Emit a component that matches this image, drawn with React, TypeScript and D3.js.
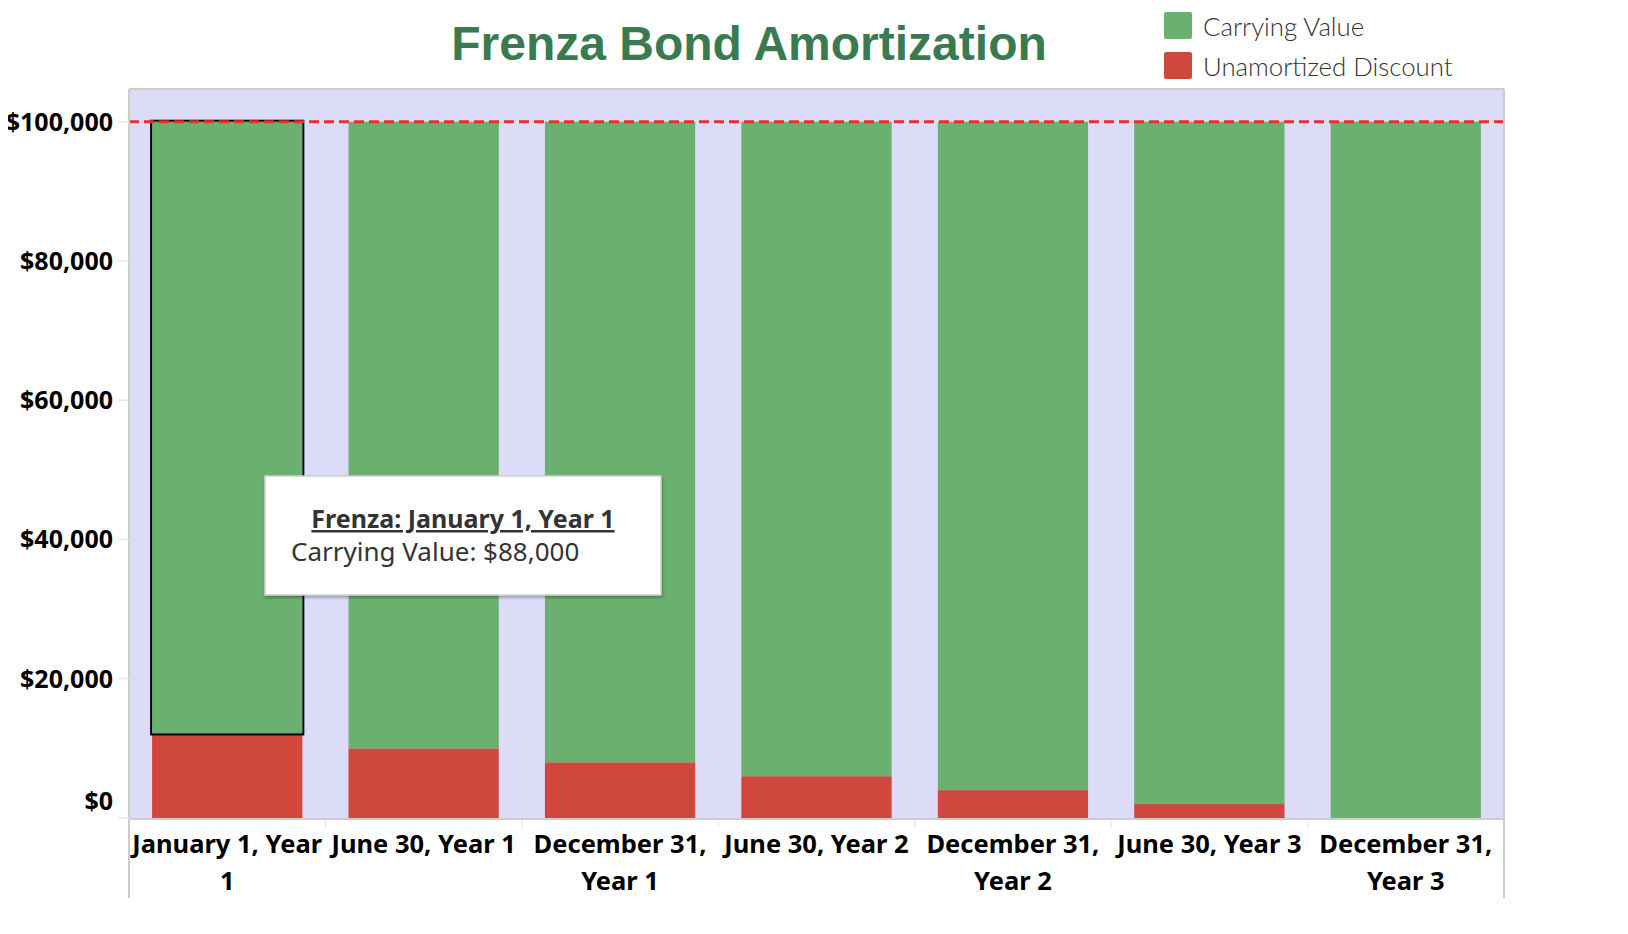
import React, { useEffect, useRef } from "react";
import * as d3 from "d3";

const categories = [
  "January 1, Year 1",
  "June 30, Year 1",
  "December 31, Year 1",
  "June 30, Year 2",
  "December 31, Year 2",
  "June 30, Year 3",
  "December 31, Year 3",
];
const unamortizedDiscount = [12000, 10000, 8000, 6000, 4000, 2000, 0];
const carryingValue = [88000, 90000, 92000, 94000, 96000, 98000, 100000];
const yTicks = [0, 20000, 40000, 60000, 80000, 100000];
const faceValue = 100000;
const yMax = 104700;
const legendItems = ["Carrying Value", "Unamortized Discount"];
const tooltipTitle = "Frenza: January 1, Year 1";
const tooltipBody = "Carrying Value: $88,000";

const W = 1628;
const H = 934;
const GREEN = "#6ab06e";
const RED = "#cf473d";
const BG = "#dcdcf9";
const AXIS = "#cccccc";
const LABEL_FONT = "'Noto Sans', 'DejaVu Sans', sans-serif";

export default function App() {
  const ref = useRef<SVGSVGElement>(null);

  useEffect(() => {
    const svg = d3.select(ref.current);
    svg.selectAll("*").remove();

    const left = 129, right = 1504, top = 89, bottom = 818;

    const x = d3
      .scaleBand<string>()
      .domain(categories)
      .range([left, right])
      .paddingInner(0.235)
      .paddingOuter(0.1175);
    const y = d3.scaleLinear().domain([0, yMax]).range([bottom, top]);

    // plot background
    svg.append("rect").attr("x", left).attr("y", top).attr("width", right - left).attr("height", bottom - top).attr("fill", BG);

    // bars
    const data = categories.map((c, i) => ({ c, d: unamortizedDiscount[i], v: carryingValue[i] }));
    svg.append("g").selectAll("rect").data(data).join("rect")
      .attr("x", (d) => x(d.c)!)
      .attr("width", x.bandwidth())
      .attr("y", (d) => y(d.d))
      .attr("height", (d) => y(0) - y(d.d))
      .attr("fill", RED);
    svg.append("g").selectAll("rect").data(data).join("rect")
      .attr("x", (d) => x(d.c)!)
      .attr("width", x.bandwidth())
      .attr("y", (d) => y(d.d + d.v))
      .attr("height", (d) => y(d.d) - y(d.d + d.v))
      .attr("fill", GREEN);

    // highlighted bar outline
    const h = data[0];
    svg.append("rect")
      .attr("x", x(h.c)! - 1)
      .attr("width", x.bandwidth() + 2)
      .attr("y", y(h.d + h.v) - 1)
      .attr("height", y(h.d) - y(h.d + h.v) + 1)
      .attr("fill", "none")
      .attr("stroke", "#000")
      .attr("stroke-width", 2);

    // reference line
    svg.append("line")
      .attr("x1", left).attr("x2", right)
      .attr("y1", y(faceValue)).attr("y2", y(faceValue))
      .attr("stroke", "#e8302a").attr("stroke-width", 3).attr("stroke-dasharray", "10,5");

    // frame
    svg.append("line").attr("x1", left).attr("x2", right).attr("y1", top).attr("y2", top).attr("stroke", AXIS).attr("stroke-width", 2);
    svg.append("line").attr("x1", left).attr("x2", left).attr("y1", top).attr("y2", 898).attr("stroke", AXIS).attr("stroke-width", 2);
    svg.append("line").attr("x1", right).attr("x2", right).attr("y1", top).attr("y2", 898).attr("stroke", AXIS).attr("stroke-width", 2);
    svg.append("line").attr("x1", left).attr("x2", right).attr("y1", bottom + 1).attr("y2", bottom + 1).attr("stroke", AXIS).attr("stroke-width", 2);

    // x band separators
    const seps = categories.slice(1).map((c) => x(c)! - (x.step() - x.bandwidth()) / 2);
    svg.append("g").selectAll("line").data(seps).join("line")
      .attr("x1", (d) => d).attr("x2", (d) => d)
      .attr("y1", bottom + 2).attr("y2", bottom + 10)
      .attr("stroke", "#eeeeee").attr("stroke-width", 2);

    // y ticks
    const yg = svg.append("g");
    yg.selectAll("line").data(yTicks).join("line")
      .attr("x1", 118).attr("x2", left)
      .attr("y1", (d) => y(d)).attr("y2", (d) => y(d))
      .attr("stroke", "#e8e8e8").attr("stroke-width", 1.5);
    const fmt = (v: number) => "$" + d3.format(",")(v);
    yg.selectAll("text").data(yTicks).join("text")
      .attr("x", 113)
      .attr("y", (d) => (d === 0 ? y(d) - 8 : y(d) + 9))
      .attr("text-anchor", "end")
      .attr("font-family", LABEL_FONT)
      .attr("font-weight", 700)
      .attr("font-size", 25)
      .attr("fill", "#000")
      .text(fmt);

    // x labels with wrapping
    const xg = svg.append("g");
    const wrapW = 204;
    categories.forEach((c) => {
      const cx = x(c)! + x.bandwidth() / 2;
      const t = xg.append("text")
        .attr("x", cx)
        .attr("text-anchor", "middle")
        .attr("font-family", LABEL_FONT)
        .attr("font-weight", 700)
        .attr("font-size", 25.5)
        .attr("fill", "#000");
      const words = c.split(" ");
      const lines: string[] = [];
      let cur: string[] = [];
      const probe = t.append("tspan");
      words.forEach((w) => {
        const test = [...cur, w].join(" ");
        probe.text(test);
        if ((probe.node() as SVGTSpanElement).getComputedTextLength() > wrapW && cur.length) {
          lines.push(cur.join(" "));
          cur = [w];
        } else cur.push(w);
      });
      lines.push(cur.join(" "));
      probe.remove();
      lines.forEach((ln, i) => {
        t.append("tspan").attr("x", cx).attr("y", 853 + i * 37).text(ln);
      });
    });

    // title
    svg.append("text")
      .attr("x", 749).attr("y", 60)
      .attr("text-anchor", "middle")
      .attr("font-family", "'Liberation Sans', Arial, sans-serif")
      .attr("font-weight", 700)
      .attr("font-size", 48)
      .attr("fill", "#3a7a50")
      .text("Frenza Bond Amortization");

    // legend
    const lg = svg.append("g");
    const lColors = [GREEN, RED];
    legendItems.forEach((name, i) => {
      lg.append("rect").attr("x", 1164).attr("y", 12 + i * 40).attr("width", 28).attr("height", 27).attr("rx", 2).attr("fill", lColors[i]);
      lg.append("text")
        .attr("x", 1203).attr("y", 36 + i * 40)
        .attr("font-family", "Lato, 'Open Sans', sans-serif")
        .attr("font-weight", 300)
        .attr("font-size", 25.8)
        .attr("fill", "#333")
        .text(name);
    });

    // tooltip
    const tg = svg.append("g");
    const defs = svg.append("defs");
    const f = defs.append("filter").attr("id", "sh").attr("x", "-10%").attr("y", "-10%").attr("width", "130%").attr("height", "140%");
    f.append("feDropShadow").attr("dx", 1).attr("dy", 2).attr("stdDeviation", 1.5).attr("flood-color", "#000").attr("flood-opacity", 0.3);
    tg.append("rect").attr("x", 265).attr("y", 476).attr("width", 396).attr("height", 119)
      .attr("fill", "#fff").attr("stroke", "#cfcfcf").attr("stroke-width", 1.5).attr("filter", "url(#sh)");
    tg.append("text").attr("x", 463).attr("y", 528).attr("text-anchor", "middle")
      .attr("font-family", LABEL_FONT).attr("font-weight", 700).attr("font-size", 25)
      .attr("fill", "#333").attr("text-decoration", "underline").text(tooltipTitle);
    tg.append("text").attr("x", 291).attr("y", 561)
      .attr("font-family", LABEL_FONT).attr("font-weight", 400).attr("font-size", 26)
      .attr("fill", "#333").text(tooltipBody);
  }, []);

  return (
    <svg
      ref={ref}
      width={W}
      height={H}
      style={{ display: "block", margin: "-8px", overflow: "visible" }}
      viewBox={`0 0 ${W} ${H}`}
    />
  );
}
